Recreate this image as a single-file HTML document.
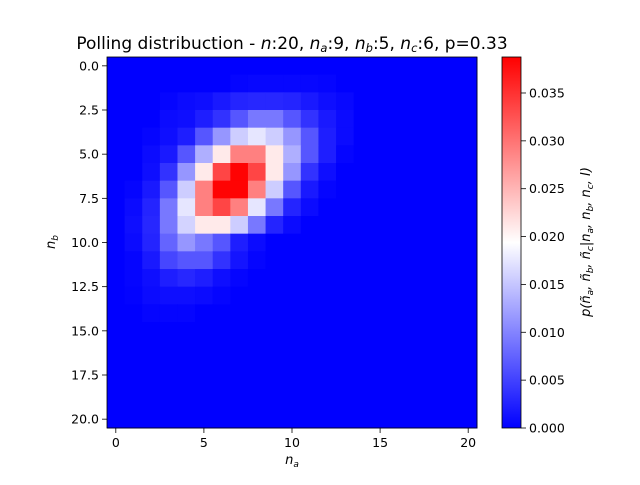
<!DOCTYPE html>
<html><head><meta charset="utf-8"><style>
body{margin:0;background:#fff;}
svg text{font-family:"DejaVu Sans","Liberation Sans",sans-serif;fill:#000;}
</style></head><body>
<svg id="chart" width="640" height="480" xmlns="http://www.w3.org/2000/svg">
<defs><linearGradient id="bwr" x1="0" y1="1" x2="0" y2="0">
<stop offset="0" stop-color="#0000ff"/><stop offset="0.5" stop-color="#ffffff"/><stop offset="1" stop-color="#ff0000"/></linearGradient></defs>
<text x="292" y="49" font-size="17" text-anchor="middle">Polling distribuction  - <tspan font-style="italic">n</tspan>:20, <tspan font-style="italic">n</tspan><tspan font-size="11.5" dy="3" font-style="italic">a</tspan><tspan dy="-3">:9, </tspan><tspan font-style="italic">n</tspan><tspan font-size="11.5" dy="3" font-style="italic">b</tspan><tspan dy="-3">:5, </tspan><tspan font-style="italic">n</tspan><tspan font-size="11.5" dy="3" font-style="italic">c</tspan><tspan dy="-3">:6, p=0.33</tspan></text>
<g id="cells"></g>
<rect x="107" y="57" width="370" height="371" fill="none" stroke="#000" stroke-width="0.8"/>
<g id="axes"></g>
<text x="292" y="464" font-size="13" text-anchor="middle" font-style="italic">n<tspan font-size="9" dy="3">a</tspan></text>
<text transform="translate(55,242) rotate(-90)" font-size="13" text-anchor="middle" font-style="italic">n<tspan font-size="9" dy="3">b</tspan></text>
<rect x="502" y="57" width="19" height="371" fill="url(#bwr)" stroke="#000" stroke-width="0.8"/>
<g id="cbaxis"></g>
<text transform="translate(590,242) rotate(-90)" font-size="13" text-anchor="middle" font-style="italic">p(ñ<tspan font-size="9" dy="3">a</tspan><tspan dy="-3">, ñ</tspan><tspan font-size="9" dy="3">b</tspan><tspan dy="-3">, ñ</tspan><tspan font-size="9" dy="3">c</tspan><tspan dy="-3">|n</tspan><tspan font-size="9" dy="3">a</tspan><tspan dy="-3">, n</tspan><tspan font-size="9" dy="3">b</tspan><tspan dy="-3">, n</tspan><tspan font-size="9" dy="3">c</tspan><tspan dy="-3">, I)</tspan></text>
</svg>
<script>
const gridRows = [
[0,0,0,0,0,0,0,0,0,0,0,0,0,0,0,0,0,0,0,0,0],
[0,0,0,0,0,0,0,0.0004,0.0005,0.0005,0.0005,0.0005,0.0004,0,0,0,0,0,0,0,0],
[0,0,0,0.0004,0.0008,0.0011,0.0019,0.0027,0.003,0.003,0.0027,0.0019,0.0011,0.0006,0,0,0,0,0,0,0],
[0,0,0,0.0008,0.0011,0.0023,0.0038,0.0065,0.0091,0.0091,0.0065,0.0038,0.0019,0.0008,0,0,0,0,0,0,0],
[0,0,0.0004,0.0011,0.0023,0.0065,0.0114,0.0156,0.0175,0.0156,0.0114,0.0065,0.0023,0.0008,0,0,0,0,0,0,0],
[0,0,0.0008,0.0019,0.0065,0.0133,0.021,0.029,0.029,0.021,0.0133,0.0065,0.0023,0.0004,0,0,0,0,0,0,0],
[0,0,0.0011,0.0038,0.0114,0.021,0.0335,0.0385,0.0335,0.021,0.0114,0.0038,0.0011,0,0,0,0,0,0,0,0],
[0,0.0004,0.0019,0.0065,0.0156,0.029,0.0385,0.0385,0.029,0.0156,0.0065,0.0019,0.0004,0,0,0,0,0,0,0,0],
[0,0.0008,0.0027,0.0091,0.0175,0.029,0.0335,0.029,0.0175,0.0091,0.0027,0.0008,0,0,0,0,0,0,0,0,0],
[0,0.0011,0.003,0.0091,0.016,0.021,0.021,0.0156,0.0091,0.0027,0.0008,0,0,0,0,0,0,0,0,0,0],
[0,0.0008,0.0027,0.0076,0.0114,0.0091,0.0065,0.0023,0.0008,0,0,0,0,0,0,0,0,0,0,0,0],
[0,0.0004,0.0019,0.0053,0.0065,0.0065,0.0038,0.0015,0.0004,0,0,0,0,0,0,0,0,0,0,0,0],
[0,0.0004,0.0011,0.0023,0.003,0.0023,0.0011,0.0004,0,0,0,0,0,0,0,0,0,0,0,0,0],
[0,0.0002,0.0008,0.0011,0.0011,0.0008,0.0004,0,0,0,0,0,0,0,0,0,0,0,0,0,0],
[0,0,0.0004,0.0004,0.0004,0,0,0,0,0,0,0,0,0,0,0,0,0,0,0,0],
[0,0,0,0,0,0,0,0,0,0,0,0,0,0,0,0,0,0,0,0,0],
[0,0,0,0,0,0,0,0,0,0,0,0,0,0,0,0,0,0,0,0,0],
[0,0,0,0,0,0,0,0,0,0,0,0,0,0,0,0,0,0,0,0,0],
[0,0,0,0,0,0,0,0,0,0,0,0,0,0,0,0,0,0,0,0,0],
[0,0,0,0,0,0,0,0,0,0,0,0,0,0,0,0,0,0,0,0,0],
[0,0,0,0,0,0,0,0,0,0,0,0,0,0,0,0,0,0,0,0,0]
];
const xTicks = [0,5,10,15,20];
const yTicks = [0,2.5,5,7.5,10,12.5,15,17.5,20];
const cbTicks = [0,0.005,0.01,0.015,0.02,0.025,0.03,0.035];
const vmax = 0.03876;
const NS="http://www.w3.org/2000/svg";
const n = gridRows.length;
const L=107,R=477,T=57,B=428;
const cw=(R-L)/n, ch=(B-T)/n;
const xs=v=>L+(v+0.5)*cw, ys=v=>T+(v+0.5)*ch;
const cs=v=>B-(v/vmax)*(B-T);
function color(v){let t=Math.max(0,Math.min(1,v/vmax));let r,g,b;
 if(t<0.5){r=g=Math.round(510*t);b=255;}else{r=255;g=b=Math.round(255*(2-2*t));}
 return `rgb(${r},${g},${b})`;}
function mk(tag,attrs,parent){const e=document.createElementNS(NS,tag);for(const k in attrs)e.setAttribute(k,attrs[k]);parent.appendChild(e);return e;}
const cells=document.getElementById('cells');
gridRows.forEach((row,i)=>row.forEach((v,j)=>{
 const r=mk('rect',{x:xs(j)-cw/2,y:ys(i)-ch/2,width:cw+0.5,height:ch+0.5,fill:color(v)},cells);
 
 
}));
const ax=document.getElementById('axes');
xTicks.forEach(t=>{const x=xs(t);
 const l=mk('line',{x1:x,x2:x,y1:B,y2:B+5,stroke:'#000','stroke-width':0.8},ax);
 
 
 const tx=mk('text',{x:x,y:B+19,'font-size':12.5,'text-anchor':'middle'},ax);tx.textContent=t;
 
 
});
yTicks.forEach(t=>{const y=ys(t);
 const l=mk('line',{x1:L-5,x2:L,y1:y,y2:y,stroke:'#000','stroke-width':0.8},ax);
 
 
 const tx=mk('text',{x:L-8,y:y+4.5,'font-size':12.5,'text-anchor':'end'},ax);tx.textContent=t.toFixed(1);
 
 
});
const cb=document.getElementById('cbaxis');
cbTicks.forEach(t=>{const y=cs(t);
 const l=mk('line',{x1:521,x2:526,y1:y,y2:y,stroke:'#000','stroke-width':0.8},cb);
 
 
 const tx=mk('text',{x:529,y:y+4.5,'font-size':12.5},cb);tx.textContent=t.toFixed(3);
 
 
});
</script>
</body></html>
